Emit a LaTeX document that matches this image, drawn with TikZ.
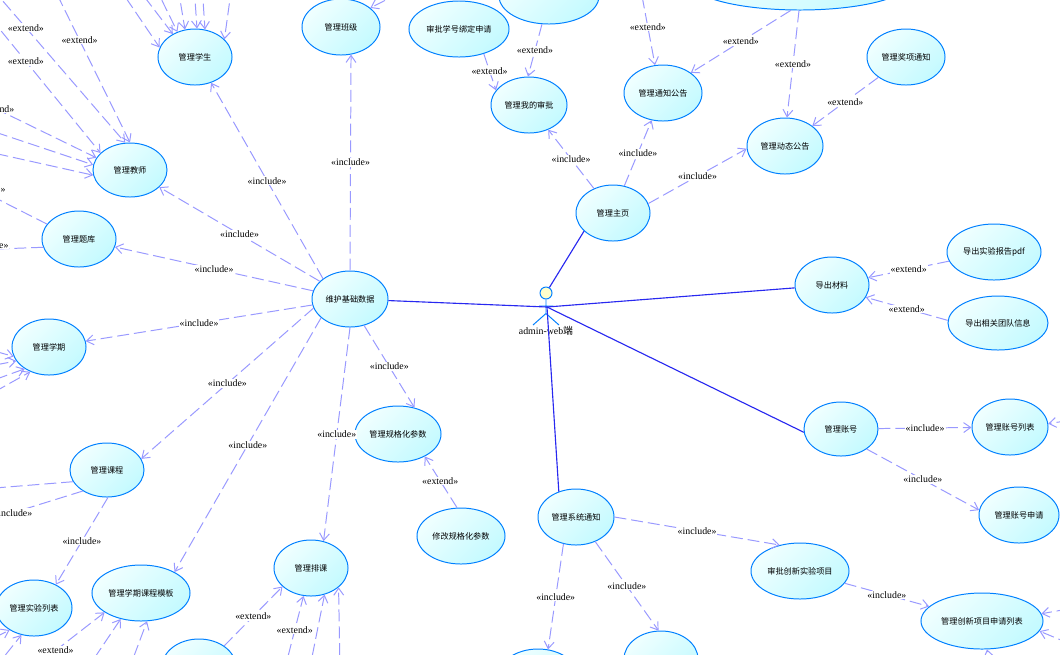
\documentclass[tikz,border=0pt]{standalone}
\usepackage{fontspec}
\setmainfont{Liberation Serif}
\newfontfamily\cjk{Noto Sans CJK SC}
\usetikzlibrary{shapes.geometric,arrows.meta}
\definecolor{ucline}{RGB}{0,128,255}
\definecolor{ucA}{RGB}{240,255,255}
\definecolor{ucB}{RGB}{196,250,255}
\definecolor{depline}{RGB}{153,153,255}
\definecolor{assocline}{RGB}{40,40,240}
\definecolor{headfill}{RGB}{255,255,204}

\begin{document}
\begin{tikzpicture}[x=0.025cm,y=-0.025cm,>={Straight Barb[length=5pt,width=7pt]},
  uc/.style={ellipse,draw=ucline,line width=0.7pt,top color=ucA,bottom color=ucB,
    shading angle=45,minimum height=1.4cm,inner sep=0pt,font=\cjk\fontsize{5.8}{6}\selectfont},
  dep/.style={->,draw=depline,line width=0.7pt,dash pattern=on 8.5pt off 3.5pt},
  assoc/.style={draw=assocline,line width=0.8pt},
  lbl/.style={fill=white,inner sep=0.6pt,text=black,font=\fontsize{7}{8}\selectfont}]
  \path[use as bounding box,fill=white] (0,0) rectangle (1060,654);
  \clip (0,0) rectangle (1060,654);

  \node[uc,minimum width=1.85cm] (stu) at (195,57) {管理学生};
  \node[uc,minimum width=1.95cm] (cls) at (341,27) {管理班级};
  \node[uc,minimum width=1.85cm,minimum height=1.35cm] (tch) at (130,170) {管理教师};
  \node[uc,minimum width=1.85cm] (bank) at (79,239) {管理题库};
  \node[uc,minimum width=1.85cm] (term) at (49,347) {管理学期};
  \node[uc,minimum width=1.9cm] (base) at (350,299) {维护基础数据};
  \node[uc,minimum width=1.85cm,minimum height=1.35cm] (crs) at (107,470) {管理课程};
  \node[uc,minimum width=1.9cm] (expl) at (34,608) {管理实验列表};
  \node[uc,minimum width=2.45cm] (tpl) at (141,593) {管理学期课程模板};
  \node[uc,minimum width=1.85cm] (sch) at (311,568) {管理排课};
  \node[uc,minimum width=1.85cm] (botC) at (199,667) {};
  \node[uc,minimum width=2.15cm] (par) at (398,434) {管理规格化参数};
  \node[uc,minimum width=2.2cm] (mpar) at (461,536) {修改规格化参数};
  \node[uc,minimum width=1.85cm] (home) at (613,213) {管理主页};
  \node[uc,minimum width=1.9cm] (myap) at (529,105) {管理我的审批};
  \node[uc,minimum width=2.5cm] (bind) at (459,29) {审批学号绑定申请};
  \node[uc,minimum width=2.5cm] (topA) at (549,-4) {};
  \node[uc,minimum width=1.95cm] (note) at (663,93) {管理通知公告};
  \node[uc,minimum width=5.5cm] (topB) at (800,-18) {};
  \node[uc,minimum width=1.9cm] (dyn) at (785,146) {管理动态公告};
  \node[uc,minimum width=1.95cm] (award) at (906,57) {管理奖项通知};
  \node[uc,minimum width=1.85cm] (exp) at (832,285) {导出材料};
  \node[uc,minimum width=2.35cm] (pdf) at (994,252) {导出实验报告pdf};
  \node[uc,minimum width=2.5cm,minimum height=1.35cm] (team) at (998,323) {导出相关团队信息};
  \node[uc,minimum width=1.85cm,minimum height=1.35cm] (acc) at (841,429) {管理账号};
  \node[uc,minimum width=1.9cm] (accl) at (1010,427) {管理账号列表};
  \node[uc,minimum width=2cm] (acca) at (1019,515) {管理账号申请};
  \node[uc,minimum width=1.9cm] (sys) at (576,517) {管理系统通知};
  \node[uc,minimum width=2.45cm] (inno) at (800,571) {审批创新实验项目};
  \node[uc,minimum width=3.05cm] (plist) at (982,621) {管理创新项目申请列表};
  \node[uc,minimum width=2cm] (botA) at (538,677) {};
  \node[uc,minimum width=1.85cm] (botB) at (661,659) {};

  % actor
  \node[circle,draw=ucline,fill=headfill,line width=0.7pt,minimum size=0.3cm,inner sep=0pt]
    (actor) at (546,293) {};
  \draw[ucline,line width=0.7pt] (actor.south) -- ++(0,14) coordinate (hip)
    (539,306) -- (553,306) (533,325) -- (hip) -- (559,325);
  \node[font=\fontsize{7}{8}\selectfont] (actname) at (546,331) {admin-web{\cjk 端}};
  \coordinate (hub) at (547,307);

  \draw[assoc] (hub) -- (base);
  \draw[assoc] (actor) -- (home.212);
  \draw[assoc] (hub) -- (exp);
  \draw[assoc] (hub) -- (acc.185);
  \draw[assoc] (hub) -- (sys.124);

  \draw[dep] (base.north) -- node[lbl] {<<include>>} (cls.290);
  \draw[dep] (base.143) -- node[lbl] {<<include>>} (stu.302);
  \draw[dep] (base) -- node[lbl] {<<include>>} (tch);
  \draw[dep] (base) -- node[lbl] {<<include>>} (bank);
  \draw[dep] (base) -- node[lbl] {<<include>>} (term);
  \draw[dep] (base.194) -- node[lbl] {<<include>>} (crs.18);
  \draw[dep] (base.213) -- node[lbl] {<<include>>} (tpl.32);
  \draw[dep] (base.south) -- node[lbl] {<<include>>} (sch.65);
  \draw[dep] (base.298) -- node[lbl] {<<include>>} (par.58);

  \draw[dep] (home) -- node[lbl] {<<include>>} (myap);
  \draw[dep] (home) -- node[lbl] {<<include>>} (note);
  \draw[dep] (home.15) -- node[lbl] {<<include>>} (dyn.184);

  \draw[dep] (bind.315) -- node[lbl,pos=0.47] {<<extend>>} (myap.156);
  \draw[dep] (topA.256) -- node[lbl] {<<extend>>} (myap.92);
  \draw[dep] (topB.252) -- node[lbl] {<<extend>>} (note.36);
  \draw[dep] (topB.268) -- node[lbl] {<<extend>>} (dyn.86);
  \draw[dep] (award) -- node[lbl] {<<extend>>} (dyn);
  \draw[dep] (pdf) -- node[lbl] {<<extend>>} (exp);
  \draw[dep] (team.177) -- node[lbl] {<<extend>>} (exp.340);
  \draw[dep] (mpar.98) -- node[lbl,pos=0.52] {<<extend>>} (par.320);

  \draw[dep] (acc) -- node[lbl] {<<include>>} (accl);
  \draw[dep] (acc.322) -- node[lbl] {<<include>>} (acca.173);
  \draw[dep] (sys.0) -- node[lbl] {<<include>>} (inno.128);
  \draw[dep] (inno) -- node[lbl] {<<include>>} (plist);
  \draw[dep] (sys.245) -- node[lbl] {<<include>>} (botA.70);
  \draw[dep] (sys.308) -- node[lbl] {<<include>>} (botB.95);
  \draw[dep] (crs.272) -- node[lbl] {<<include>>} (expl.47);
  \draw[dep] (botC.40) -- node[lbl] {<<extend>>} (sch.213);

  % links that leave the frame
  \foreach \sx/\ang [count=\i] in {107/165,124/134,147/125,175/110,193/86,201/70,234/31} {
    \coordinate (s\i) at (\sx,-30);
    \draw[dep] (s\i) -- (stu.\ang);
  }
  \coordinate (t1) at (-30,-37);
  \coordinate (t2) at (50,-20);
  \coordinate (t3) at (-20,5);
  \coordinate (t4) at (-20,101);
  \coordinate (t5) at (-20,127);
  \coordinate (t6) at (-20,150);
  \draw[dep] (t1) -- node[lbl,pos=0.36] {<<extend>>} (tch.100);
  \draw[dep] (t2) -- node[lbl,pos=0.37] {<<extend>>} (tch.90);
  \draw[dep] (t3) -- node[lbl,pos=0.38] {<<extend>>} (tch.150);
  \draw[dep] (t4) -- node[lbl,pos=0.14] {<<extend>>} (tch.160);
  \draw[dep] (t5) -- (tch.172);
  \draw[dep] (t6) -- (tch.188);

  \coordinate (b1) at (-40,180);
  \coordinate (b2) at (-30,250);
  \draw[dep] (bank.155) -- node[lbl,pos=0.70,yshift=3pt] {<<include>>} (b1);
  \draw[dep] (bank.193) -- node[lbl,pos=0.74,yshift=3pt] {<<include>>} (b2);

  \foreach \sy/\ang [count=\i] in {347/195,368/203,385/222,400/233} {
    \coordinate (m\i) at (-20,\sy);
    \draw[dep] (m\i) -- (term.\ang);
  }
  \coordinate (c1) at (-30,490);
  \coordinate (c2) at (-30,526);
  \draw[dep] (crs.199) -- (c1);
  \draw[dep] (crs.221) -- node[lbl,pos=0.62] {<<include>>} (c2);

  \coordinate (e1) at (-20,645);
  \coordinate (e2) at (-5,668);
  \draw[dep] (e1) -- (expl.222);
  \draw[dep] (e2) -- (expl.245);

  \coordinate (p1) at (28,672);
  \coordinate (p2) at (85,672);
  \coordinate (p3) at (128,672);
  \draw[dep] (p1) -- node[lbl,pos=0.36] {<<extend>>} (tpl.208);
  \draw[dep] (p2) -- (tpl.232);
  \draw[dep] (p3) -- (tpl.282);

  \coordinate (k1) at (284,672);
  \coordinate (k2) at (309,672);
  \coordinate (k3) at (340,672);
  \draw[dep] (k1) -- node[lbl,pos=0.55] {<<extend>>} (sch.255);
  \draw[dep] (k2) -- (sch.297);
  \draw[dep] (k3) -- (sch.325);

  \coordinate (n1) at (415,-15);
  \coordinate (n2) at (639,-20);
  \draw[dep] (n1) -- (cls.33);
  \draw[dep] (n2) -- node[lbl,pos=0.55] {<<extend>>} (note.106);

  \coordinate (r1) at (1085,418);
  \coordinate (r2) at (1085,606);
  \coordinate (r3) at (1085,650);
  \coordinate (r4) at (995,685);
  \draw[dep] (r1) -- (accl.5);
  \draw[dep] (r2) -- (plist.7);
  \draw[dep] (r3) -- (plist.350);
  \draw[dep] (r4) -- (plist.280);
\end{tikzpicture}
\end{document}
